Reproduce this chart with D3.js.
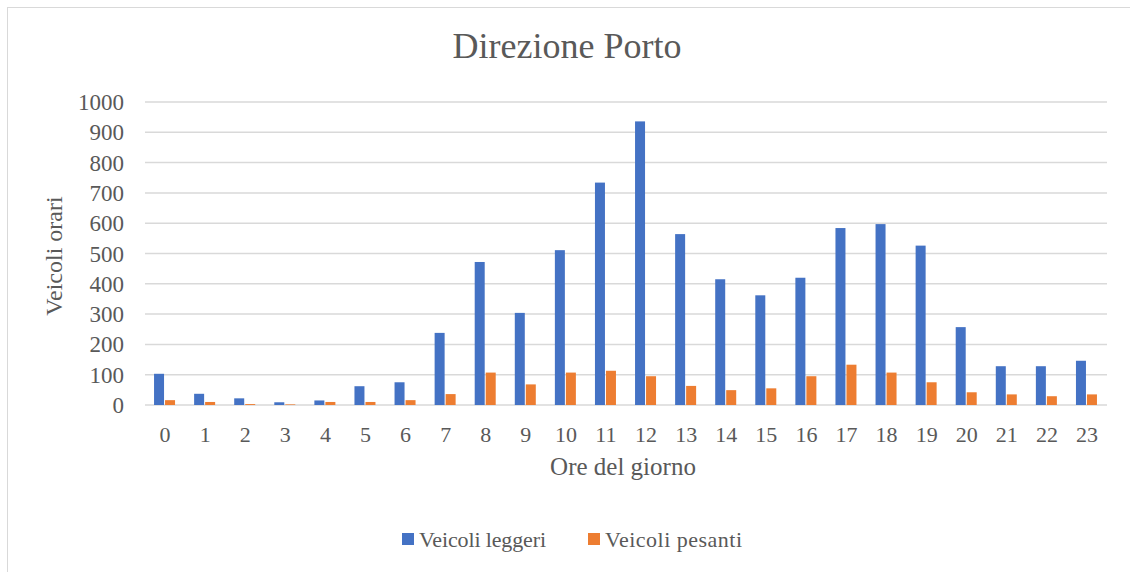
<!DOCTYPE html>
<html><head><meta charset="utf-8">
<script src="https://cdn.jsdelivr.net/npm/d3@7"></script>
<style>body{margin:0;background:#fff}svg{display:block}</style>
</head><body>
<script>
const hours = ["0","1","2","3","4","5","6","7","8","9","10","11","12","13","14","15","16","17","18","19","20","21","22","23"];
const leggeri = [103,37,22,9,15,62,75,238,472,304,511,734,936,564,415,362,420,584,597,526,257,128,128,146];
const pesanti = [16,10,3,2,10,10,16,36,107,68,107,113,95,63,49,55,95,133,107,75,42,35,29,35];
const yTicks = [0,100,200,300,400,500,600,700,800,900,1000];
const seriesNames = ["Veicoli leggeri","Veicoli pesanti"];
const colors = ["#4472C4","#ED7D31"];

(function(){
const W = 1130, H = 572;
const svg = d3.select("body").append("svg").attr("width", W).attr("height", H);
const font = "'Liberation Serif','Times New Roman',serif";
const txt = "#595959";

svg.append("rect").attr("x",7.5).attr("y",7.5).attr("width",W).attr("height",H)
  .attr("fill","#fff").attr("stroke","#d9d9d9").attr("stroke-width",1);

const pLeft = 145, pRight = 1107, pTop = 102, pBottom = 405;
const x = d3.scaleBand().domain(hours).range([pLeft, pRight]);
const y = d3.scaleLinear().domain([0,1000]).range([pBottom, pTop]);

// gridlines
svg.append("g").selectAll("line").data(yTicks).join("line")
  .attr("x1", pLeft).attr("x2", pRight)
  .attr("y1", d => y(d)).attr("y2", d => y(d))
  .attr("stroke", "#d9d9d9").attr("stroke-width", 1.5);

// y axis labels
const yAxis = d3.axisLeft(y).tickValues(yTicks).tickSize(0).tickPadding(0).tickFormat(d3.format("d"));
const yg = svg.append("g").attr("transform", `translate(${pLeft-21},0)`).call(yAxis);
yg.select(".domain").remove();
yg.selectAll("text").attr("font-family", font).attr("font-size", 23).attr("fill", txt).attr("dy","0.33em");

// x axis labels
const xAxis = d3.axisBottom(x).tickSize(0).tickPadding(0);
const xg = svg.append("g").attr("transform", `translate(0,${pBottom+24})`).call(xAxis);
xg.select(".domain").remove();
xg.selectAll("text").attr("font-family", font).attr("font-size", 22).attr("fill", txt).attr("dy","0.6em");

// bars
const bw = 10;
const sub = d3.scaleBand().domain([0,1]).range([0, 2*bw+2]);
const data = [leggeri, pesanti];
data.forEach((vals, si) => {
  svg.append("g").selectAll("rect").data(vals).join("rect")
    .attr("x", (d,i) => x(hours[i]) + x.bandwidth()/2 - (bw+1) + sub(si))
    .attr("width", bw)
    .attr("y", d => y(d))
    .attr("height", d => y(0) - y(d))
    .attr("fill", colors[si]);
});

// title
svg.append("text").attr("x", 567).attr("y", 58).attr("text-anchor","middle")
  .attr("font-family", font).attr("font-size", 36).attr("fill", txt).text("Direzione Porto");

// axis titles
svg.append("text").attr("x", 623).attr("y", 475).attr("text-anchor","middle")
  .attr("font-family", font).attr("font-size", 25).attr("fill", txt).text("Ore del giorno");
svg.append("text").attr("transform", `translate(62,256) rotate(-90)`).attr("text-anchor","middle")
  .attr("font-family", font).attr("font-size", 24).attr("fill", txt).text("Veicoli orari");

// legend
const legX = [402, 588];
const legW = [127, 137];
seriesNames.forEach((n, i) => {
  svg.append("rect").attr("x", legX[i]).attr("y", 533).attr("width", 12).attr("height", 12).attr("fill", colors[i]);
  svg.append("text").attr("x", legX[i] + 17).attr("y", 547).attr("font-family", font).attr("font-size", 22)
    .attr("textLength", legW[i]).attr("lengthAdjust","spacing")
    .attr("fill", txt).text(n);
});
})();
</script>
</body></html>
